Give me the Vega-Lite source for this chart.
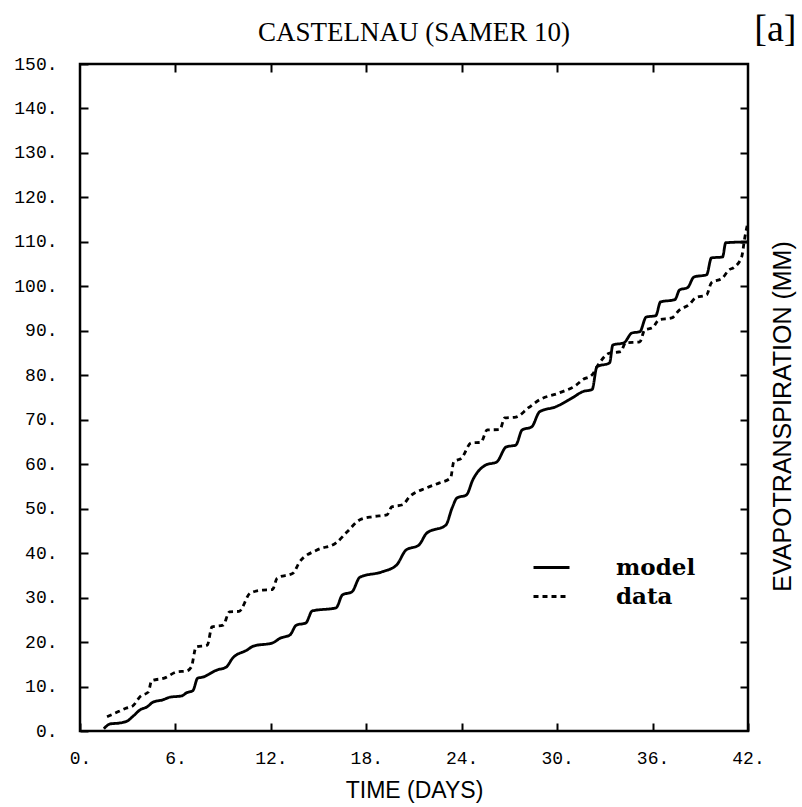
{
  "$schema": "https://vega.github.io/schema/vega-lite/v6.json",
  "width": 668,
  "height": 667,
  "autosize": {"type": "none"},
  "padding": {"left": 80, "top": 64, "right": 54, "bottom": 76},
  "background": "white",
  "title": {
    "text": "CASTELNAU (SAMER 10)",
    "font": "Liberation Serif",
    "fontSize": 27,
    "fontWeight": "normal",
    "color": "black",
    "anchor": "middle",
    "baseline": "bottom",
    "offset": -64
  },
  "config": {
    "view": {"stroke": "black", "strokeWidth": 2.5},
    "axis": {
      "domain": false,
      "grid": false,
      "tickColor": "black",
      "tickWidth": 2,
      "tickSize": -8,
      "labelFont": "Liberation Mono",
      "labelFontSize": 18,
      "labelColor": "black",
      "titleFont": "Liberation Sans",
      "titleFontWeight": "normal",
      "titleColor": "black",
      "titleFontSize": 23
    }
  },
  "data": {
    "values": [
      {"series": "model", "day": 1.5, "et": 0.5},
      {"series": "model", "day": 1.9, "et": 1.6},
      {"series": "model", "day": 2.5, "et": 1.8},
      {"series": "model", "day": 3.0, "et": 2.3},
      {"series": "model", "day": 3.3, "et": 3.2},
      {"series": "model", "day": 3.8, "et": 4.8},
      {"series": "model", "day": 4.2, "et": 5.4},
      {"series": "model", "day": 4.6, "et": 6.5},
      {"series": "model", "day": 5.2, "et": 7.0},
      {"series": "model", "day": 5.65, "et": 7.6},
      {"series": "model", "day": 6.4, "et": 7.9},
      {"series": "model", "day": 6.7, "et": 8.6},
      {"series": "model", "day": 7.1, "et": 9.1},
      {"series": "model", "day": 7.4, "et": 11.9},
      {"series": "model", "day": 7.7, "et": 12.1},
      {"series": "model", "day": 8.6, "et": 13.7},
      {"series": "model", "day": 9.2, "et": 14.4},
      {"series": "model", "day": 9.6, "et": 16.4},
      {"series": "model", "day": 10.5, "et": 18.2},
      {"series": "model", "day": 10.9, "et": 19.1},
      {"series": "model", "day": 12.1, "et": 19.8},
      {"series": "model", "day": 12.6, "et": 20.9},
      {"series": "model", "day": 13.2, "et": 21.6},
      {"series": "model", "day": 13.6, "et": 23.8},
      {"series": "model", "day": 14.2, "et": 24.3},
      {"series": "model", "day": 14.6, "et": 27.0},
      {"series": "model", "day": 16.1, "et": 27.7},
      {"series": "model", "day": 16.5, "et": 30.6},
      {"series": "model", "day": 17.1, "et": 31.3},
      {"series": "model", "day": 17.6, "et": 34.6},
      {"series": "model", "day": 19.0, "et": 35.8},
      {"series": "model", "day": 19.9, "et": 37.3},
      {"series": "model", "day": 20.5, "et": 40.7},
      {"series": "model", "day": 21.3, "et": 41.8},
      {"series": "model", "day": 21.8, "et": 44.5},
      {"series": "model", "day": 23.0, "et": 46.3},
      {"series": "model", "day": 23.4, "et": 50.2},
      {"series": "model", "day": 23.7, "et": 52.4},
      {"series": "model", "day": 24.3, "et": 53.1},
      {"series": "model", "day": 24.7, "et": 56.5},
      {"series": "model", "day": 25.5, "et": 59.8},
      {"series": "model", "day": 26.2, "et": 60.5},
      {"series": "model", "day": 26.8, "et": 63.9},
      {"series": "model", "day": 27.4, "et": 64.3},
      {"series": "model", "day": 27.8, "et": 67.7},
      {"series": "model", "day": 28.4, "et": 68.4},
      {"series": "model", "day": 28.9, "et": 71.8},
      {"series": "model", "day": 29.9, "et": 72.9},
      {"series": "model", "day": 30.9, "et": 74.8},
      {"series": "model", "day": 31.6, "et": 76.3},
      {"series": "model", "day": 32.2, "et": 76.8},
      {"series": "model", "day": 32.5, "et": 81.9},
      {"series": "model", "day": 33.3, "et": 82.8},
      {"series": "model", "day": 33.5, "et": 86.8},
      {"series": "model", "day": 34.2, "et": 87.3},
      {"series": "model", "day": 34.7, "et": 89.5},
      {"series": "model", "day": 35.2, "et": 89.8},
      {"series": "model", "day": 35.6, "et": 93.1},
      {"series": "model", "day": 36.2, "et": 93.4},
      {"series": "model", "day": 36.5, "et": 96.5},
      {"series": "model", "day": 37.4, "et": 97.0},
      {"series": "model", "day": 37.7, "et": 99.2},
      {"series": "model", "day": 38.2, "et": 99.7},
      {"series": "model", "day": 38.6, "et": 102.1},
      {"series": "model", "day": 39.4, "et": 102.6},
      {"series": "model", "day": 39.7, "et": 106.4},
      {"series": "model", "day": 40.4, "et": 106.6},
      {"series": "model", "day": 40.6, "et": 109.8},
      {"series": "model", "day": 42.0, "et": 110.0},
      {"series": "data", "day": 1.7, "et": 3.2},
      {"series": "data", "day": 2.2, "et": 4.0},
      {"series": "data", "day": 2.95, "et": 5.2},
      {"series": "data", "day": 3.3, "et": 5.6},
      {"series": "data", "day": 3.8, "et": 7.8},
      {"series": "data", "day": 4.3, "et": 8.8},
      {"series": "data", "day": 4.5, "et": 11.3},
      {"series": "data", "day": 5.3, "et": 11.9},
      {"series": "data", "day": 6.1, "et": 13.3},
      {"series": "data", "day": 6.7, "et": 13.5},
      {"series": "data", "day": 7.0, "et": 14.4},
      {"series": "data", "day": 7.3, "et": 18.9},
      {"series": "data", "day": 8.0, "et": 19.3},
      {"series": "data", "day": 8.3, "et": 23.4},
      {"series": "data", "day": 9.0, "et": 23.8},
      {"series": "data", "day": 9.4, "et": 26.8},
      {"series": "data", "day": 10.0, "et": 26.9},
      {"series": "data", "day": 10.7, "et": 31.0},
      {"series": "data", "day": 11.5, "et": 31.7},
      {"series": "data", "day": 12.1, "et": 31.8},
      {"series": "data", "day": 12.4, "et": 34.4},
      {"series": "data", "day": 13.4, "et": 35.5},
      {"series": "data", "day": 13.8, "et": 38.0},
      {"series": "data", "day": 14.9, "et": 40.7},
      {"series": "data", "day": 16.1, "et": 42.3},
      {"series": "data", "day": 16.8, "et": 44.8},
      {"series": "data", "day": 17.6, "et": 47.5},
      {"series": "data", "day": 18.4, "et": 48.2},
      {"series": "data", "day": 19.3, "et": 48.6},
      {"series": "data", "day": 19.6, "et": 50.4},
      {"series": "data", "day": 20.3, "et": 50.9},
      {"series": "data", "day": 20.7, "et": 52.6},
      {"series": "data", "day": 21.8, "et": 54.7},
      {"series": "data", "day": 22.6, "et": 55.8},
      {"series": "data", "day": 23.3, "et": 56.9},
      {"series": "data", "day": 23.5, "et": 60.5},
      {"series": "data", "day": 24.0, "et": 61.4},
      {"series": "data", "day": 24.6, "et": 64.8},
      {"series": "data", "day": 25.2, "et": 64.9},
      {"series": "data", "day": 25.6, "et": 67.7},
      {"series": "data", "day": 26.4, "et": 67.8},
      {"series": "data", "day": 26.7, "et": 70.4},
      {"series": "data", "day": 27.4, "et": 70.6},
      {"series": "data", "day": 28.2, "et": 72.7},
      {"series": "data", "day": 28.9, "et": 74.5},
      {"series": "data", "day": 30.1, "et": 76.0},
      {"series": "data", "day": 31.2, "et": 77.8},
      {"series": "data", "day": 31.6, "et": 79.0},
      {"series": "data", "day": 32.2, "et": 80.1},
      {"series": "data", "day": 32.5, "et": 81.9},
      {"series": "data", "day": 33.3, "et": 85.0},
      {"series": "data", "day": 34.0, "et": 85.3},
      {"series": "data", "day": 34.3, "et": 87.3},
      {"series": "data", "day": 35.2, "et": 87.5},
      {"series": "data", "day": 35.5, "et": 90.2},
      {"series": "data", "day": 36.0, "et": 90.7},
      {"series": "data", "day": 36.4, "et": 92.5},
      {"series": "data", "day": 37.2, "et": 92.9},
      {"series": "data", "day": 37.7, "et": 94.7},
      {"series": "data", "day": 38.3, "et": 95.9},
      {"series": "data", "day": 38.7, "et": 97.4},
      {"series": "data", "day": 39.4, "et": 98.1},
      {"series": "data", "day": 39.7, "et": 100.8},
      {"series": "data", "day": 40.4, "et": 101.9},
      {"series": "data", "day": 40.8, "et": 103.7},
      {"series": "data", "day": 41.1, "et": 104.2},
      {"series": "data", "day": 41.6, "et": 106.6},
      {"series": "data", "day": 41.8, "et": 111.0},
      {"series": "data", "day": 42.0, "et": 114.5}
    ]
  },
  "layer": [
    {
      "mark": {"type": "line", "interpolate": "monotone", "strokeWidth": 2.8, "color": "black", "clip": true},
      "encoding": {
        "x": {
          "field": "day", "type": "quantitative",
          "scale": {"domain": [0, 42], "nice": false, "zero": false},
          "axis": {
            "orient": "bottom",
            "values": [0, 6, 12, 18, 24, 30, 36, 42],
            "labelExpr": "datum.value + '.'",
            "labelPadding": 26,
            "labelFlush": false,
            "title": "TIME (DAYS)",
            "titleX": 334,
            "titleY": 59,
            "titleBaseline": "middle",
            "titleAlign": "center"
          }
        },
        "y": {
          "field": "et", "type": "quantitative",
          "scale": {"domain": [0, 150], "nice": false, "zero": false},
          "axis": {
            "orient": "left",
            "values": [0, 10, 20, 30, 40, 50, 60, 70, 80, 90, 100, 110, 120, 130, 140, 150],
            "labelExpr": "datum.value + '.'",
            "labelPadding": 31,
            "labelFlush": false,
            "title": null
          }
        },
        "strokeDash": {
          "field": "series", "type": "nominal",
          "scale": {"domain": ["model", "data"], "range": [[1, 0], [5, 4]]},
          "legend": {
            "orient": "none",
            "legendX": 455,
            "legendY": 487,
            "title": null,
            "padding": 0,
            "rowPadding": 0,
            "symbolType": "M-1.2,0L1.2,0",
            "symbolSize": 900,
            "symbolStrokeWidth": 2.8,
            "symbolStrokeColor": "black",
            "symbolFillColor": "transparent",
            "labelFont": "DejaVu Serif",
            "labelFontWeight": "bold",
            "labelFontSize": 23,
            "labelColor": "black",
            "labelOffset": 48
          }
        }
      }
    },
    {
      "mark": {"type": "line", "opacity": 0},
      "encoding": {
        "x": {
          "field": "day", "type": "quantitative",
          "scale": {"domain": [0, 42], "nice": false, "zero": false},
          "axis": {
            "orient": "top",
            "values": [6, 12, 18, 24, 30, 36],
            "labels": false,
            "title": "[a]",
            "titleFont": "Liberation Serif",
            "titleFontSize": 38,
            "titleX": 716,
            "titleY": -24,
            "titleAlign": "right",
            "titleBaseline": "alphabetic"
          }
        },
        "y": {
          "field": "et", "type": "quantitative",
          "scale": {"domain": [0, 150], "nice": false, "zero": false},
          "axis": {
            "orient": "right",
            "values": [10, 20, 30, 40, 50, 60, 70, 80, 90, 100, 110, 120, 130, 140],
            "labels": false,
            "title": "EVAPOTRANSPIRATION (MM)",
            "titleFontSize": 25,
            "titleAngle": 270,
            "titleX": 34,
            "titleY": 352,
            "titleAlign": "center",
            "titleBaseline": "middle"
          }
        }
      }
    }
  ],
  "resolve": {"axis": {"x": "independent", "y": "independent"}}
}
